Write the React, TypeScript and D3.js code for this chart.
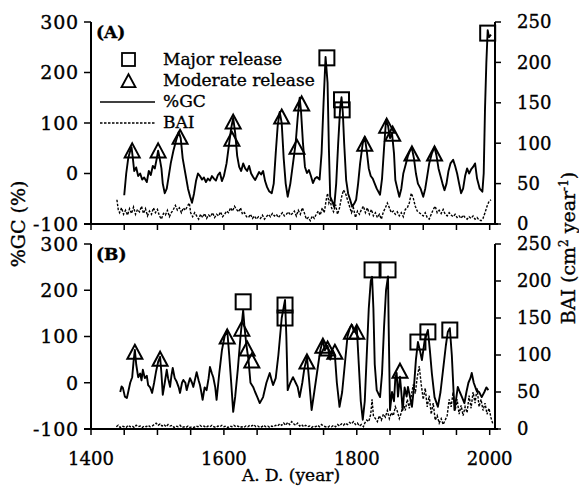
import React from 'react';
import { scaleLinear, line, range } from 'd3';

// axis ticks
const yearTicks = range(1400, 2001, 50);
const yearLabels = [1400, 1600, 1800, 2000];
const gcTicks = [-100, 0, 100, 200, 300];
const baiTicks = [0, 50, 100, 150, 200, 250];

// panel A - %GC (year, %)
const gcA: [number, number][] = [
	[1450, -43], [1453, 0], [1456, 30], [1459, 45], [1461, 52], [1463, 30], [1465, 5], [1468, 12],
	[1471, -5], [1474, 0], [1477, -12], [1480, -8], [1484, -17], [1487, 5], [1490, -3], [1493, 15],
	[1496, 10], [1499, 30], [1501, 45], [1503, 33], [1506, 10], [1508, -20], [1511, -39], [1514, -30],
	[1517, -5], [1520, 20], [1524, 45], [1528, 65], [1532, 82], [1535, 70], [1538, 30], [1542, 0],
	[1546, -30], [1549, -45], [1552, -58], [1555, -40], [1558, -15], [1561, 0], [1564, -5], [1567, -12],
	[1570, -8], [1573, -17], [1576, -10], [1579, -14], [1582, -5], [1585, -10], [1588, -14], [1591, -3],
	[1594, 2], [1597, -15], [1600, -5], [1604, 20], [1608, 60], [1611, 90], [1614, 110], [1617, 80],
	[1620, 35], [1623, 13], [1626, 5], [1629, 20], [1632, 10], [1635, 5], [1638, 15], [1641, 0],
	[1644, -7], [1647, -13], [1650, -5], [1653, 3], [1656, -2], [1659, 5], [1662, -15], [1665, -27],
	[1668, -35], [1672, -39], [1675, -20], [1678, 40], [1681, 95], [1684, 122], [1687, 100], [1690, 30],
	[1693, -20], [1696, -46], [1700, -20], [1704, 20], [1708, 60], [1711, 110], [1714, 150], [1716, 125],
	[1719, 60], [1722, 13], [1725, 1], [1728, 7], [1731, -5], [1734, -19], [1737, -10], [1740, -7],
	[1744, -12], [1747, 40], [1750, 140], [1753, 231], [1756, 180], [1758, 50], [1760, -46], [1763, -55],
	[1766, -66], [1769, -20], [1772, 60], [1775, 130], [1777, 151], [1779, 120], [1781, 60], [1784, -13],
	[1787, -40], [1790, -52], [1793, -66], [1796, -60], [1799, -52], [1802, -20], [1805, 20], [1809, 60],
	[1812, 72], [1815, 45], [1818, 10], [1821, -5], [1824, -10], [1827, -20], [1830, -30], [1835, -42],
	[1838, -10], [1841, 50], [1844, 106], [1847, 95], [1850, 70], [1853, 80], [1856, 40], [1858, -13],
	[1861, -30], [1864, -46], [1867, -30], [1870, 0], [1874, 20], [1877, 35], [1880, 45], [1883, 50],
	[1886, 30], [1889, 0], [1892, -20], [1896, -30], [1900, -46], [1903, -30], [1906, -5], [1909, 20],
	[1913, 40], [1917, 52], [1920, 35], [1923, 10], [1926, -5], [1929, -20], [1932, -33], [1935, -20],
	[1938, 5], [1941, 20], [1945, 27], [1948, 15], [1951, 0], [1954, -20], [1957, -39], [1960, -30],
	[1963, -5], [1966, 10], [1969, 0], [1972, 8], [1975, 13], [1978, 20], [1981, -10], [1985, -30],
	[1989, -36], [1991, 0], [1993, 130], [1995, 220], [1997, 284], [1999, 270], [2002, 275],
];

// panel A - BAI (year, cm2/yr)
const baiA: [number, number][] = [
	[1439, 30], [1441, 18], [1443, 14], [1446, 20], [1449, 12], [1452, 17], [1455, 11], [1458, 19],
	[1461, 13], [1464, 21], [1467, 12], [1470, 18], [1473, 15], [1476, 22], [1479, 13], [1482, 19],
	[1485, 10], [1488, 16], [1491, 12], [1494, 20], [1497, 14], [1500, 18], [1503, 10], [1506, 6],
	[1509, 13], [1512, 11], [1515, 17], [1518, 9], [1521, 14], [1524, 18], [1527, 23], [1530, 17],
	[1533, 20], [1536, 14], [1539, 20], [1542, 17], [1545, 22], [1548, 26], [1550, 14], [1553, 9],
	[1556, 14], [1559, 10], [1562, 6], [1565, 12], [1568, 8], [1571, 13], [1574, 7], [1577, 11],
	[1580, 9], [1583, 14], [1586, 8], [1589, 12], [1592, 10], [1595, 15], [1598, 9], [1601, 12],
	[1604, 16], [1607, 14], [1610, 20], [1613, 16], [1616, 22], [1619, 18], [1622, 15], [1625, 20],
	[1628, 12], [1631, 14], [1634, 9], [1637, 8], [1640, 12], [1643, 7], [1646, 10], [1649, 6],
	[1652, 9], [1655, 7], [1658, 11], [1661, 6], [1664, 9], [1667, 12], [1670, 9], [1673, 13],
	[1676, 10], [1679, 12], [1682, 8], [1685, 11], [1688, 14], [1691, 10], [1694, 12], [1697, 15],
	[1700, 11], [1703, 13], [1706, 16], [1709, 10], [1712, 17], [1715, 12], [1718, 20], [1721, 14],
	[1724, 6], [1727, 8], [1730, 4], [1733, 10], [1736, 7], [1739, 12], [1742, 16], [1745, 11],
	[1748, 20], [1751, 14], [1754, 30], [1756, 38], [1758, 26], [1760, 30], [1762, 20], [1765, 15],
	[1768, 24], [1771, 12], [1774, 20], [1777, 33], [1780, 42], [1783, 38], [1786, 30], [1789, 22],
	[1792, 14], [1795, 20], [1798, 8], [1801, 16], [1804, 12], [1807, 18], [1810, 22], [1813, 14],
	[1816, 20], [1819, 12], [1822, 18], [1825, 10], [1828, 14], [1831, 8], [1834, 12], [1837, 6],
	[1840, 15], [1843, 20], [1846, 26], [1849, 20], [1852, 14], [1855, 16], [1858, 12], [1861, 15],
	[1864, 10], [1867, 14], [1870, 9], [1873, 18], [1876, 20], [1879, 26], [1882, 38], [1885, 32],
	[1888, 22], [1891, 16], [1894, 14], [1897, 12], [1900, 10], [1903, 14], [1906, 8], [1909, 6],
	[1912, 12], [1915, 18], [1918, 22], [1921, 14], [1924, 17], [1927, 13], [1930, 18], [1933, 12],
	[1936, 10], [1939, 14], [1942, 11], [1945, 9], [1948, 12], [1951, 8], [1954, 10], [1957, 7],
	[1960, 11], [1963, 8], [1966, 6], [1969, 9], [1972, 7], [1975, 10], [1978, 6], [1981, 8],
	[1984, 5], [1987, 4], [1990, 7], [1993, 14], [1996, 22], [1999, 28], [2002, 30],
];

// panel A release markers (year, %GC)
const majorA: [number, number][] = [[1755, 229], [1777, 146], [1778, 126], [1997, 278]];
const moderateA: [number, number][] = [
	[1462, 43], [1501, 43], [1534, 70], [1614, 100], [1612, 66], [1687, 110], [1710, 50],
	[1717, 136], [1812, 56], [1845, 92], [1854, 76], [1883, 37], [1917, 37],
];

// panel B - %GC
const gcB: [number, number][] = [
	[1444, -20], [1446, -8], [1448, -11], [1451, -30], [1454, -33], [1456, -20], [1459, 0], [1462, 12],
	[1464, 45], [1466, 71], [1468, 40], [1471, 12], [1474, 20], [1476, 5], [1478, 28], [1481, 10],
	[1484, 15], [1486, -5], [1489, -10], [1492, -22], [1495, 0], [1498, 25], [1501, 45], [1504, 56],
	[1506, 20], [1508, -26], [1511, 0], [1514, 28], [1516, 10], [1519, -9], [1521, 15], [1523, 32],
	[1526, 10], [1529, 2], [1532, -10], [1534, -22], [1537, 0], [1539, 6], [1542, 0], [1544, -16],
	[1547, 0], [1549, 10], [1552, 0], [1554, -9], [1557, 10], [1559, 23], [1562, 5], [1564, -5],
	[1566, -20], [1568, -37], [1571, -10], [1574, -16], [1577, 10], [1579, 34], [1582, 20], [1584, 12],
	[1587, -10], [1589, -37], [1593, 20], [1597, 70], [1601, 100], [1605, 114], [1608, 60], [1611, 0],
	[1614, -63], [1617, -30], [1621, 30], [1625, 100], [1629, 157], [1631, 120], [1634, 80], [1637, 50],
	[1640, 0], [1644, -9], [1647, -20], [1650, -30], [1654, -44], [1659, -31], [1664, 0], [1669, 21],
	[1672, 5], [1674, -5], [1678, 10], [1682, 60], [1687, 140], [1692, 179], [1694, 100], [1696, -16],
	[1700, 0], [1704, 12], [1708, 0], [1711, -9], [1714, -31], [1718, 0], [1721, 30], [1725, 56],
	[1728, 10], [1732, -59], [1736, -20], [1740, 20], [1745, 70], [1749, 92], [1752, 70], [1756, 80],
	[1760, 50], [1764, 70], [1767, 60], [1770, 0], [1774, -52], [1778, -20], [1782, 40], [1786, 100],
	[1790, 120], [1793, 125], [1796, 110], [1800, 120], [1803, 40], [1806, -40], [1809, -80], [1812, -40],
	[1815, 60], [1818, 160], [1821, 220], [1823, 229], [1825, 160], [1827, 40], [1830, -16], [1833, -25],
	[1835, -31], [1838, 20], [1841, 120], [1844, 200], [1847, 230], [1848, 120], [1850, -59], [1853, -20],
	[1856, -40], [1858, 10], [1860, 21], [1862, -30], [1865, 13], [1867, -20], [1869, -59], [1872, -10],
	[1875, -30], [1877, -9], [1880, -30], [1883, -52], [1886, -10], [1889, 50], [1892, 88], [1895, 70],
	[1898, 49], [1902, 90], [1907, 114], [1910, 70], [1913, 20], [1917, -31], [1922, -52], [1926, -20],
	[1930, 30], [1934, 80], [1937, 110], [1940, 118], [1943, 60], [1945, 0], [1947, -59], [1950, -30],
	[1952, -9], [1955, -20], [1958, -30], [1962, -44], [1965, -20], [1968, 0], [1971, 10], [1973, 21],
	[1976, 0], [1980, -16], [1984, -20], [1988, -31], [1992, -20], [1995, -10], [1998, -16],
];

// panel B - BAI
const baiB: [number, number][] = [
	[1438, 3], [1441, 5], [1444, 2], [1447, 4], [1450, 3], [1453, 2], [1456, 5], [1459, 3],
	[1462, 4], [1465, 2], [1468, 5], [1471, 3], [1474, 4], [1477, 2], [1480, 4], [1483, 3],
	[1486, 5], [1489, 3], [1492, 4], [1495, 6], [1498, 8], [1501, 5], [1504, 7], [1507, 4],
	[1510, 6], [1513, 3], [1516, 6], [1519, 4], [1522, 5], [1525, 2], [1528, 4], [1531, 3],
	[1534, 5], [1537, 2], [1540, 3], [1543, 2], [1546, 4], [1549, 2], [1552, 3], [1555, 2],
	[1558, 4], [1561, 3], [1564, 5], [1567, 3], [1570, 4], [1573, 2], [1576, 4], [1579, 3],
	[1582, 5], [1585, 3], [1588, 2], [1591, 4], [1594, 3], [1597, 5], [1600, 3], [1603, 4],
	[1606, 2], [1609, 4], [1612, 3], [1615, 5], [1618, 3], [1621, 4], [1624, 2], [1627, 3],
	[1630, 2], [1633, 4], [1636, 3], [1639, 5], [1642, 4], [1645, 6], [1648, 3], [1651, 4],
	[1654, 2], [1657, 3], [1660, 5], [1663, 3], [1666, 4], [1669, 2], [1672, 4], [1675, 3],
	[1678, 5], [1681, 4], [1684, 7], [1687, 5], [1690, 8], [1693, 5], [1696, 9], [1699, 6],
	[1702, 10], [1705, 7], [1708, 5], [1711, 8], [1714, 4], [1717, 6], [1720, 3], [1723, 5],
	[1726, 3], [1729, 4], [1732, 2], [1735, 4], [1738, 3], [1741, 5], [1744, 3], [1747, 6],
	[1750, 4], [1753, 3], [1756, 2], [1759, 4], [1762, 3], [1765, 5], [1768, 3], [1771, 6],
	[1774, 4], [1777, 7], [1780, 5], [1783, 8], [1786, 6], [1789, 9], [1792, 7], [1795, 10],
	[1798, 6], [1801, 8], [1804, 4], [1807, 6], [1810, 3], [1812, 8], [1815, 12], [1818, 10],
	[1821, 20], [1823, 40], [1825, 18], [1828, 14], [1831, 10], [1834, 18], [1837, 12], [1840, 20],
	[1843, 16], [1846, 25], [1849, 14], [1852, 22], [1855, 18], [1858, 30], [1861, 24], [1864, 14],
	[1867, 22], [1870, 35], [1873, 25], [1876, 40], [1879, 28], [1882, 45], [1885, 60], [1888, 48],
	[1891, 70], [1894, 85], [1897, 60], [1900, 40], [1903, 55], [1906, 30], [1909, 45], [1912, 20],
	[1915, 35], [1918, 12], [1921, 18], [1924, 8], [1927, 14], [1930, 6], [1933, 12], [1936, 18],
	[1939, 40], [1942, 30], [1945, 50], [1948, 25], [1951, 40], [1954, 20], [1957, 32], [1960, 18],
	[1963, 30], [1966, 22], [1969, 45], [1972, 28], [1975, 50], [1978, 35], [1981, 55], [1984, 30],
	[1987, 40], [1990, 25], [1993, 35], [1996, 20], [1999, 28], [2002, 15], [2005, 6],
];

const majorB: [number, number][] = [
	[1629, 175], [1692, 168], [1692, 140], [1823, 244], [1847, 244], [1892, 88], [1907, 110], [1940, 114],
];
const moderateB: [number, number][] = [
	[1466, 64], [1504, 49], [1605, 97], [1627, 114], [1635, 71], [1642, 45], [1725, 43], [1749, 77],
	[1756, 71], [1767, 64], [1792, 107], [1800, 107], [1865, 23],
];

const FONT = '"DejaVu Serif", serif';
// scanned figure text looks heavier than plain regular weight
const ink = { fill: '#000', stroke: '#000', strokeWidth: 0.35 };

const x = scaleLinear().domain([1400, 2008]).range([91, 495]);

const triangle = (cx: number, cy: number, w = 15, h = 14) =>
	`M${cx},${cy - h * 0.6}L${cx + w / 2},${cy + h * 0.4}L${cx - w / 2},${cy + h * 0.4}Z`;

function Panel({ label, top, bottom, gc, bai, major, moderate }) {
	const yGC = scaleLinear().domain([-100, 300]).range([bottom, top]);
	const yBAI = scaleLinear().domain([0, 250]).range([bottom, top]);
	const gcLine = line<[number, number]>().x((d) => x(d[0])).y((d) => yGC(d[1]));
	const baiLine = line<[number, number]>().x((d) => x(d[0])).y((d) => yBAI(d[1]));
	const [x0, x1] = x.range();

	return (
		<g>
			<path d={baiLine(bai) || ''} fill="none" stroke="#000" strokeWidth={1.4} strokeDasharray="2.5 1.5" />
			<path d={gcLine(gc) || ''} fill="none" stroke="#000" strokeWidth={1.9} strokeLinejoin="round" />
			{major.map((d, i) => (
				<rect key={'m' + i} x={x(d[0]) - 7.5} y={yGC(d[1]) - 7.5} width={15} height={15}
					fill="none" stroke="#000" strokeWidth={2} />
			))}
			{moderate.map((d, i) => (
				<path key={'t' + i} d={triangle(x(d[0]), yGC(d[1]))} fill="none" stroke="#000" strokeWidth={2} />
			))}

			{/* axes */}
			<line x1={x0} x2={x0} y1={top} y2={bottom} stroke="#000" strokeWidth={2} />
			<line x1={x1} x2={x1} y1={top} y2={bottom} stroke="#000" strokeWidth={2} />
			<line x1={x0 - 7} x2={x1 + 3} y1={bottom} y2={bottom} stroke="#000" strokeWidth={2} />
			{yearTicks.map((t) => (
				<line key={'xt' + t} x1={x(t)} x2={x(t)} y1={bottom} y2={bottom + 6} stroke="#000" strokeWidth={1.5} />
			))}
			{gcTicks.map((t) => (
				<g key={'gt' + t}>
					<line x1={x0 - 7} x2={x0} y1={yGC(t)} y2={yGC(t)} stroke="#000" strokeWidth={1.5} />
					<text x={x0 - 12} y={yGC(t)} dy="0.36em" textAnchor="end" fontSize={19} letterSpacing={0.8}
						fontFamily={FONT} {...ink}>
						{String(t)}
					</text>
				</g>
			))}
			{baiTicks.map((t) => (
				<g key={'bt' + t}>
					<line x1={x1} x2={x1 + 6} y1={yBAI(t)} y2={yBAI(t)} stroke="#000" strokeWidth={1.5} />
					<text x={x1 + 22} y={yBAI(t)} dy="0.36em" fontSize={18} fontFamily={FONT} {...ink}>
						{String(t)}
					</text>
				</g>
			))}
			<text x={x0 + 5} y={top + 16} fontSize={17} fontWeight="bold" fontFamily={FONT} {...ink}>
				{label}
			</text>
		</g>
	);
}

export default function App() {
	return (
		<svg width={579} height={488} style={{ position: 'absolute', left: 0, top: 0, background: '#fff' }}>
			<Panel label="(A)" top={22} bottom={224} gc={gcA} bai={baiA} major={majorA} moderate={moderateA} />
			<Panel label="(B)" top={244} bottom={429} gc={gcB} bai={baiB} major={majorB} moderate={moderateB} />

			{/* legend */}
			<g fontFamily={FONT} fontSize={17}>
				<rect x={122} y={53} width={13} height={13} fill="none" stroke="#000" strokeWidth={1.8} />
				<text x={163} y={65} {...ink}>Major release</text>
				<path d={triangle(128.5, 82, 14, 13)} fill="none" stroke="#000" strokeWidth={1.8} />
				<text x={163} y={86} {...ink}>Moderate release</text>
				<line x1={100} x2={155} y1={102} y2={102} stroke="#000" strokeWidth={1.6} />
				<text x={163} y={107} {...ink}>%GC</text>
				<line x1={100} x2={155} y1={123} y2={123} stroke="#000" strokeWidth={1.3} strokeDasharray="2.5 1.5" />
				<text x={163} y={128} {...ink}>BAI</text>
			</g>

			{/* x labels */}
			{yearLabels.map((t) => (
				<text key={'xl' + t} x={x(t)} y={465} textAnchor="middle" fontSize={18} fontFamily={FONT} {...ink}>
					{t}
				</text>
			))}
			<text x={291} y={481} textAnchor="middle" fontSize={17} fontFamily={FONT} {...ink}>A. D. (year)</text>

			<text transform="translate(25,224) rotate(-90)" textAnchor="middle" fontSize={19} fontFamily={FONT} {...ink}>
				%GC (%)
			</text>
			<text transform="translate(575,248) rotate(-90)" textAnchor="middle" fontSize={19} fontFamily={FONT} {...ink}>
				BAI (cm<tspan fontSize={12} dy={-7}>2</tspan>
				<tspan dy={7}> year</tspan>
				<tspan fontSize={12} dy={-7}>-1</tspan>
				<tspan dy={7}>)</tspan>
			</text>
		</svg>
	);
}
